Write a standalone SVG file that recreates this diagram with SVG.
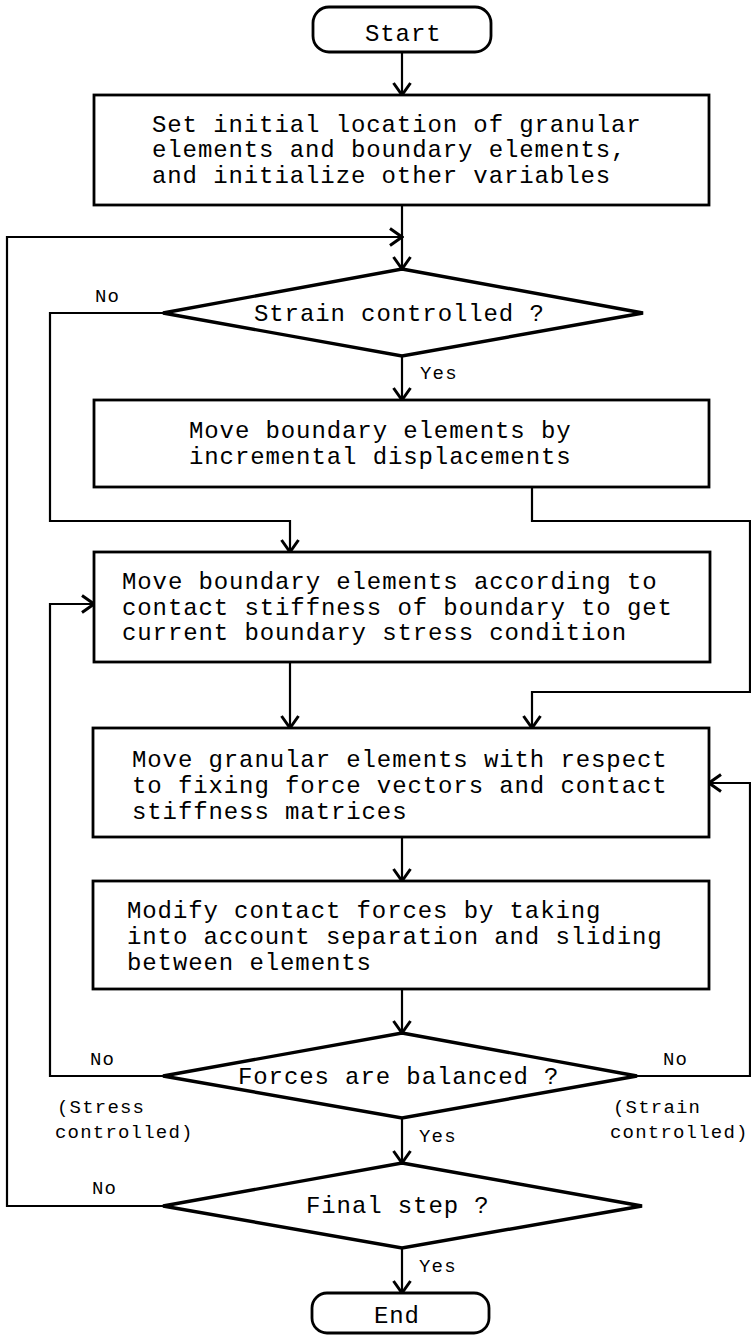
<svg xmlns="http://www.w3.org/2000/svg" width="751" height="1335" viewBox="0 0 751 1335">
<style>
.bx{fill:#fff;stroke:#000;stroke-width:2.8}
.dm{fill:#fff;stroke:#000;stroke-width:3.4}
.ln{fill:none;stroke:#000;stroke-width:2.2;stroke-linejoin:miter}
.t{font-family:"Liberation Mono","Courier New",monospace;font-size:24px;letter-spacing:0.9px;fill:#000}
.s{font-family:"Liberation Mono","Courier New",monospace;font-size:19px;letter-spacing:1.2px;fill:#000}
</style>
<defs>
<marker id="arr" viewBox="-15 -10 17 20" markerWidth="17" markerHeight="20" refX="0" refY="0" orient="auto" markerUnits="userSpaceOnUse">
<path d="M-12,-8.5 L0,0 L-12,8.5" fill="none" stroke="#000" stroke-width="3"/>
</marker>
</defs>
<rect width="751" height="1335" fill="#fff"/>
<g id="connectors">
<path class="ln" d="M402,52 V95" marker-end="url(#arr)"/>
<path class="ln" d="M402,205 V269" marker-end="url(#arr)"/>
<path class="ln" d="M163,1206 H7 V237 H402" marker-end="url(#arr)"/>
<path class="ln" d="M163,313 H50 V521 H290 V552" marker-end="url(#arr)"/>
<path class="ln" d="M402,356 V400" marker-end="url(#arr)"/>
<path class="ln" d="M532,487 V521 H750 V692 H532 V728" marker-end="url(#arr)"/>
<path class="ln" d="M290,662 V728" marker-end="url(#arr)"/>
<path class="ln" d="M402,837 V881" marker-end="url(#arr)"/>
<path class="ln" d="M402,989 V1033" marker-end="url(#arr)"/>
<path class="ln" d="M163,1076 H50 V604 H94" marker-end="url(#arr)"/>
<path class="ln" d="M637,1076 H750 V783 H709" marker-end="url(#arr)"/>
<path class="ln" d="M402,1118 V1163" marker-end="url(#arr)"/>
<path class="ln" d="M402,1248 V1293" marker-end="url(#arr)"/>
</g>
<g id="start">
<rect class="bx" x="313" y="7" width="178" height="45" rx="16"/>
<text class="t" x="365" y="41">Start</text>
</g>
<g id="init">
<rect class="bx" x="94" y="95" width="615" height="110"/>
<text class="t" x="152" y="132">Set initial location of granular</text>
<text class="t" x="152" y="157">elements and boundary elements,</text>
<text class="t" x="152" y="183">and initialize other variables</text>
</g>
<g id="strain-decision">
<polygon class="dm" points="402,269 643,313 402,356 163,313"/>
<text class="t" x="254" y="321">Strain controlled ?</text>
<text class="s" x="95" y="302">No</text>
<text class="s" x="420" y="379">Yes</text>
</g>
<g id="move-incremental">
<rect class="bx" x="94" y="400" width="615" height="87"/>
<text class="t" x="189" y="438">Move boundary elements by</text>
<text class="t" x="189" y="464">incremental displacements</text>
</g>
<g id="move-stiffness">
<rect class="bx" x="94" y="552" width="616" height="110"/>
<text class="t" x="122" y="589">Move boundary elements according to</text>
<text class="t" x="122" y="615">contact stiffness of boundary to get</text>
<text class="t" x="122" y="640">current boundary stress condition</text>
</g>
<g id="move-granular">
<rect class="bx" x="93" y="728" width="616" height="109"/>
<text class="t" x="132" y="767">Move granular elements with respect</text>
<text class="t" x="132" y="793">to fixing force vectors and contact</text>
<text class="t" x="132" y="819">stiffness matrices</text>
</g>
<g id="modify-forces">
<rect class="bx" x="93" y="881" width="616" height="108"/>
<text class="t" x="127" y="918">Modify contact forces by taking</text>
<text class="t" x="127" y="944">into account separation and sliding</text>
<text class="t" x="127" y="970">between elements</text>
</g>
<g id="balance-decision">
<polygon class="dm" points="402,1033 637,1076 402,1118 163,1076"/>
<text class="t" x="238" y="1084">Forces are balanced ?</text>
<text class="s" x="90" y="1065">No</text>
<text class="s" x="663" y="1065">No</text>
<text class="s" x="57" y="1113">(Stress</text>
<text class="s" x="55" y="1138">controlled)</text>
<text class="s" x="613" y="1113">(Strain</text>
<text class="s" x="610" y="1138">controlled)</text>
<text class="s" x="419" y="1142">Yes</text>
</g>
<g id="final-decision">
<polygon class="dm" points="402,1163 642,1206 402,1248 163,1206"/>
<text class="t" x="306" y="1213">Final step ?</text>
<text class="s" x="92" y="1194">No</text>
<text class="s" x="419" y="1272">Yes</text>
</g>
<g id="end">
<rect class="bx" x="312" y="1293" width="177" height="40" rx="15"/>
<text class="t" x="374" y="1323">End</text>
</g>
</svg>
